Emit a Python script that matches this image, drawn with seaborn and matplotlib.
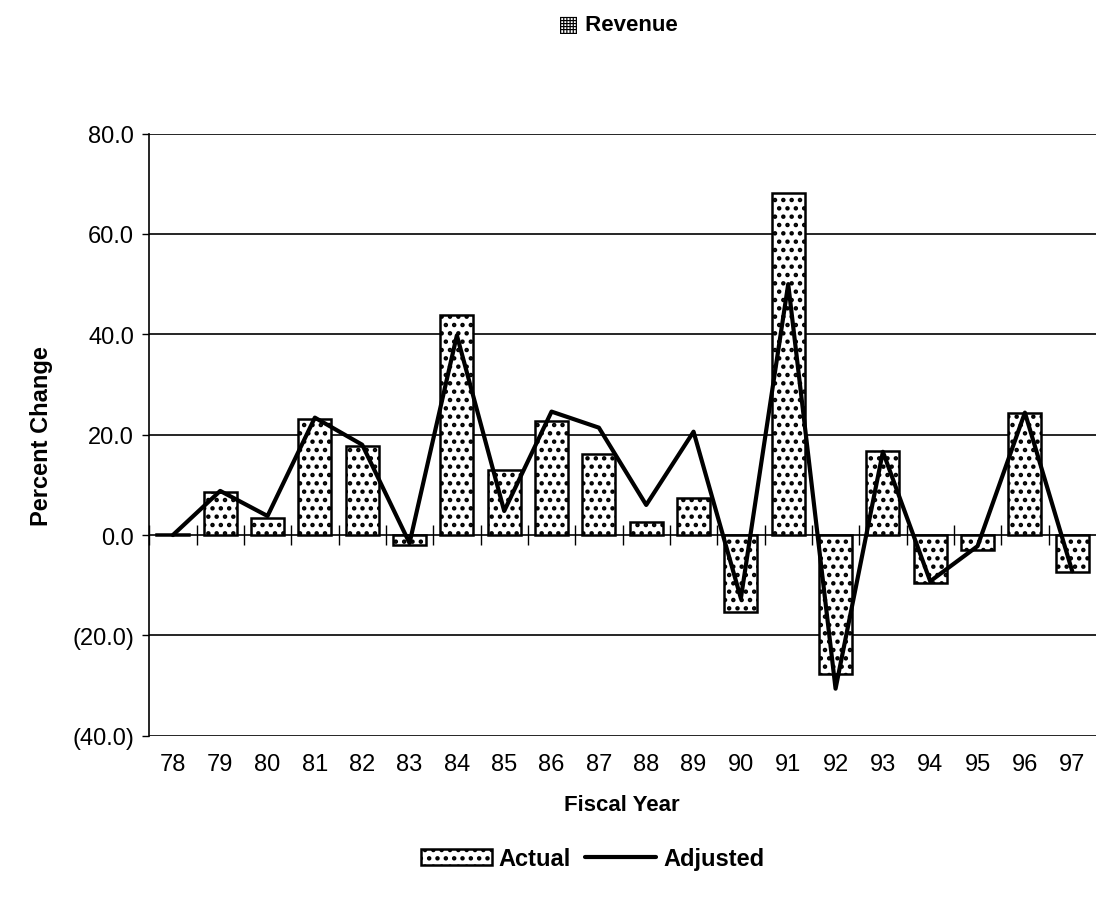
import numpy as np
import pandas as pd
import matplotlib
matplotlib.use("Agg")
import matplotlib.pyplot as plt
import seaborn as sns

# revenue, percent change by fiscal year
years = ["78", "79", "80", "81", "82", "83", "84", "85", "86", "87",
         "88", "89", "90", "91", "92", "93", "94", "95", "96", "97"]
actual = [0.3, 8.5, 3.4, 23.2, 17.8, -2.0, 43.8, 13.0, 22.8, 16.2,
          2.6, 7.4, -15.4, 68.2, -27.6, 16.8, -9.6, -3.0, 24.4, -7.4]
adjusted = [0.0, 8.8, 3.8, 23.4, 18.0, -1.6, 39.8, 4.8, 24.6, 21.4,
            6.0, 20.6, -12.6, 50.0, -30.6, 16.6, -9.2, -2.2, 24.4, -7.2]
y_ticks = [-40, -20, 0, 20, 40, 60, 80]

df = pd.DataFrame({"year": years, "actual": actual, "adjusted": adjusted})
df["pos"] = np.arange(len(df))

sns.set_style("white")
plt.rcParams["font.family"] = ["Liberation Sans", "DejaVu Sans"]
plt.rcParams["hatch.linewidth"] = 2.0
plt.rcParams["text.color"] = "black"
plt.rcParams["axes.labelcolor"] = "black"
plt.rcParams["xtick.color"] = "black"
plt.rcParams["ytick.color"] = "black"


def fmt_pct(v):
    # accounting style: negatives in parentheses
    return f"({abs(v):.1f})" if v < 0 else f"{v:.1f}"


fig = plt.figure(figsize=(10.97, 9.03), dpi=100)
ax = fig.add_axes([0.136, 0.184, 0.863, 0.667])

sns.barplot(data=df, x="year", y="actual", color="white", edgecolor="black",
            linewidth=1.8, width=0.7, saturation=1, label="Actual", ax=ax)
for bar in ax.patches:
    bar.set_hatch("..")

sns.lineplot(data=df, x="pos", y="adjusted", color="black", linewidth=3.0,
             label="Adjusted", ax=ax)

ax.set_xlim(-0.5, len(years) - 0.5)
ax.set_ylim(-40, 80)
ax.set_yticks(y_ticks, labels=[fmt_pct(v) for v in y_ticks])
ax.yaxis.grid(True, color="black", linewidth=1.2)
ax.set_axisbelow(True)

# category boundary ticks sit on the zero line, year labels at the bottom
ax.spines["bottom"].set_position(("data", 0))
ax.spines["bottom"].set_visible(False)
ax.spines["top"].set_visible(False)
ax.spines["right"].set_visible(False)
ax.spines["left"].set_color("black")
ax.spines["left"].set_linewidth(1.2)
ax.set_xticks(np.arange(len(years)) - 0.5)
ax.tick_params(axis="x", bottom=True, direction="inout", length=14,
               width=1.0, labelbottom=False)
ax.tick_params(axis="y", left=True, direction="out", length=5, width=1.0,
               labelsize=17, pad=6)

sec = ax.secondary_xaxis(0)
sec.set_xticks(df["pos"], labels=years)
sec.tick_params(axis="x", length=0, labelsize=17, pad=12)
sec.spines["bottom"].set_visible(False)

ax.set_xlabel("")
ax.set_ylabel("Percent Change", fontsize=17, fontweight="bold", labelpad=14)
fig.text(0.567, 0.108, "Fiscal Year", ha="center", va="center",
         fontsize=16, fontweight="bold")
fig.text(0.563, 0.972, "\u25a6 Revenue", ha="center", va="center",
         fontsize=16, fontweight="bold",
         family=["Liberation Sans", "DejaVu Sans"])

handles, labels = ax.get_legend_handles_labels()
ax.get_legend().remove()
order = [labels.index("Actual"), labels.index("Adjusted")]
fig.legend([handles[i] for i in order], [labels[i] for i in order],
           loc="center", bbox_to_anchor=(0.54, 0.048),
           ncol=2, frameon=False, handlelength=3.0, handletextpad=0.3,
           columnspacing=0.6, prop={"size": 17, "weight": "bold"})

fig.savefig("out.png", dpi=100)
